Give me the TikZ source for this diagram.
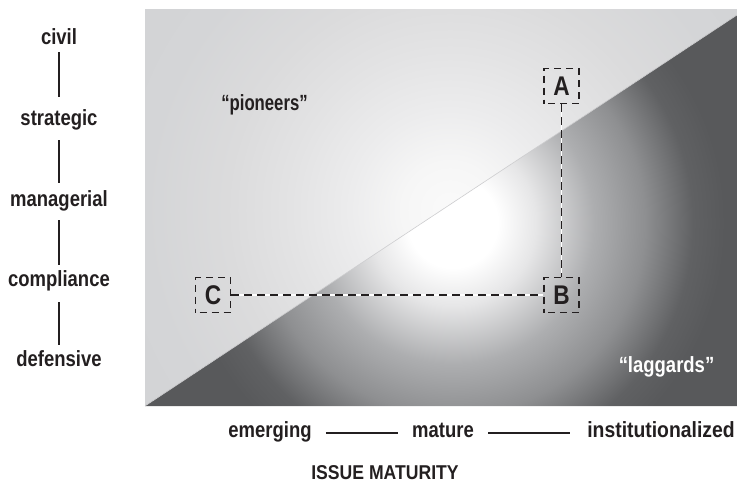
\documentclass[tikz,border=0pt]{standalone}
\usepackage{fontspec}
\setmainfont{Liberation Sans}[FakeStretch=0.84]
\definecolor{txt}{HTML}{231F20}
\definecolor{up0}{HTML}{FAFAFA}
\definecolor{upS}{HTML}{F6F6F6}
\definecolor{upA}{HTML}{ECECED}
\definecolor{upB}{HTML}{E3E3E4}
\definecolor{upC}{HTML}{DBDBDC}
\definecolor{upD}{HTML}{D4D5D7}
\definecolor{upE}{HTML}{D2D3D5}
\definecolor{loA}{HTML}{E6E6E7}
\definecolor{loB}{HTML}{ADAEB0}
\definecolor{loC}{HTML}{8E8F91}
\definecolor{loD}{HTML}{606163}
\definecolor{loE}{HTML}{58595B}
\definecolor{diag}{HTML}{CDCDCF}
% path radius 400pt corresponds to 25bp, so 1bp = 16pt
\pgfdeclareradialshading{upshade}{\pgfpoint{0bp}{0bp}}{color(0bp)=(up0); color(3bp)=(upS); color(6.25bp)=(upA); color(10bp)=(upB); color(14bp)=(upC); color(19bp)=(upD); color(25bp)=(upE); color(50bp)=(upE)}
\pgfdeclareradialshading{lowshade}{\pgfpoint{0bp}{0bp}}{color(0bp)=(white); color(2.8bp)=(white); color(5.2bp)=(loA); color(8.8bp)=(loB); color(12bp)=(loC); color(15bp)=(loD); color(17bp)=(loE); color(50bp)=(loE)}
\begin{document}
\begin{tikzpicture}[x=1pt,y=-1pt,
  lbl/.style={font=\fontsize{22}{26}\selectfont\bfseries, text=txt, inner sep=0pt, text height=15pt, text depth=4pt, anchor=base},
  blbl/.style={font=\fontsize{22}{26}\selectfont\bfseries, text=txt, inner sep=0pt, text height=8pt, text depth=0pt, anchor=base},
  vline/.style={draw=txt, line width=1.6pt},
  hline/.style={draw=txt, line width=1.6pt, shorten <=14pt, shorten >=14pt},
  mbox/.style={draw=txt, line width=1.8pt, dash pattern=on 7pt off 5pt, dash phase=-4pt, minimum width=35pt, minimum height=35pt, inner sep=0pt, font=\fontsize{27}{30}\selectfont\bfseries, text=txt},
  conn/.style={draw=txt, line width=1.8pt, dash pattern=on 8pt off 5pt},
  connbg/.style={draw=white, line width=1.8pt}]
\useasboundingbox (0,0) rectangle (737,483);

% upper region
\begin{scope}
  \clip (145,9) -- (737,9) -- (737,15) -- (145,406) -- cycle;
  \shade[shading=upshade] (450,210) circle (400pt);
\end{scope}
% lower region
\begin{scope}
  \clip (145,406) -- (737,15) -- (737,406) -- cycle;
  \shade[shading=lowshade] (453,223) circle (400pt);
\end{scope}
\draw[draw=diag, line width=0.6pt] (145,406) -- (737,15);

% left scale
\node[lbl] (civil) at (59,44) {civil};
\node[lbl] (strategic) at (59,125) {strategic};
\node[lbl] (managerial) at (59,206) {managerial};
\node[lbl] (compliance) at (59,286) {compliance};
\node[lbl] (defensive) at (59,366) {defensive};
\draw[vline, shorten <=4pt, shorten >=13pt] (civil.south) -- (strategic.north);
\draw[vline, shorten <=11pt, shorten >=8pt] (strategic.south) -- (managerial.north);
\draw[vline, shorten <=10pt, shorten >=6pt] (managerial.south) -- (compliance.north);
\draw[vline, shorten <=12pt, shorten >=6pt] (compliance.south) -- (defensive.north);

% bottom scale
\node[blbl] (emerging) at (270,437) {emerging};
\node[blbl] (mature) at (443,437) {mature};
\node[blbl, font=\fontsize{22}{26}\selectfont\bfseries\addfontfeature{FakeStretch=0.88}] (inst) at (661,437) {institutionalized};
\draw[hline] (emerging) -- (mature);
\draw[hline, shorten >=17pt] (mature) -- (inst);
\node[font=\fontsize{20}{23}\selectfont\bfseries\addfontfeature{FakeStretch=0.88}, text=txt, inner sep=0pt, anchor=base] (title) at (385,479) {ISSUE MATURITY};

% region labels
\node[font=\fontsize{22}{26}\selectfont\bfseries\addfontfeature{FakeStretch=0.76}, text=txt, inner sep=0pt, anchor=base] (pioneers) at (264.5,110) {“pioneers”};
\node[font=\fontsize{22}{26}\selectfont\bfseries, text=white, inner sep=0pt, anchor=base] (laggards) at (666.5,372) {“laggards”};

% boxes
\node[mbox] (A) at (561.5,86) {A};
\node[mbox] (B) at (561.5,295) {B};
\node[mbox] (C) at (213,295) {C};
\draw[connbg] (A) -- (B);
\draw[conn] (A) -- (B);
\draw[connbg] (C) -- (B);
\draw[conn] (C) -- (B);
\end{tikzpicture}
\end{document}
